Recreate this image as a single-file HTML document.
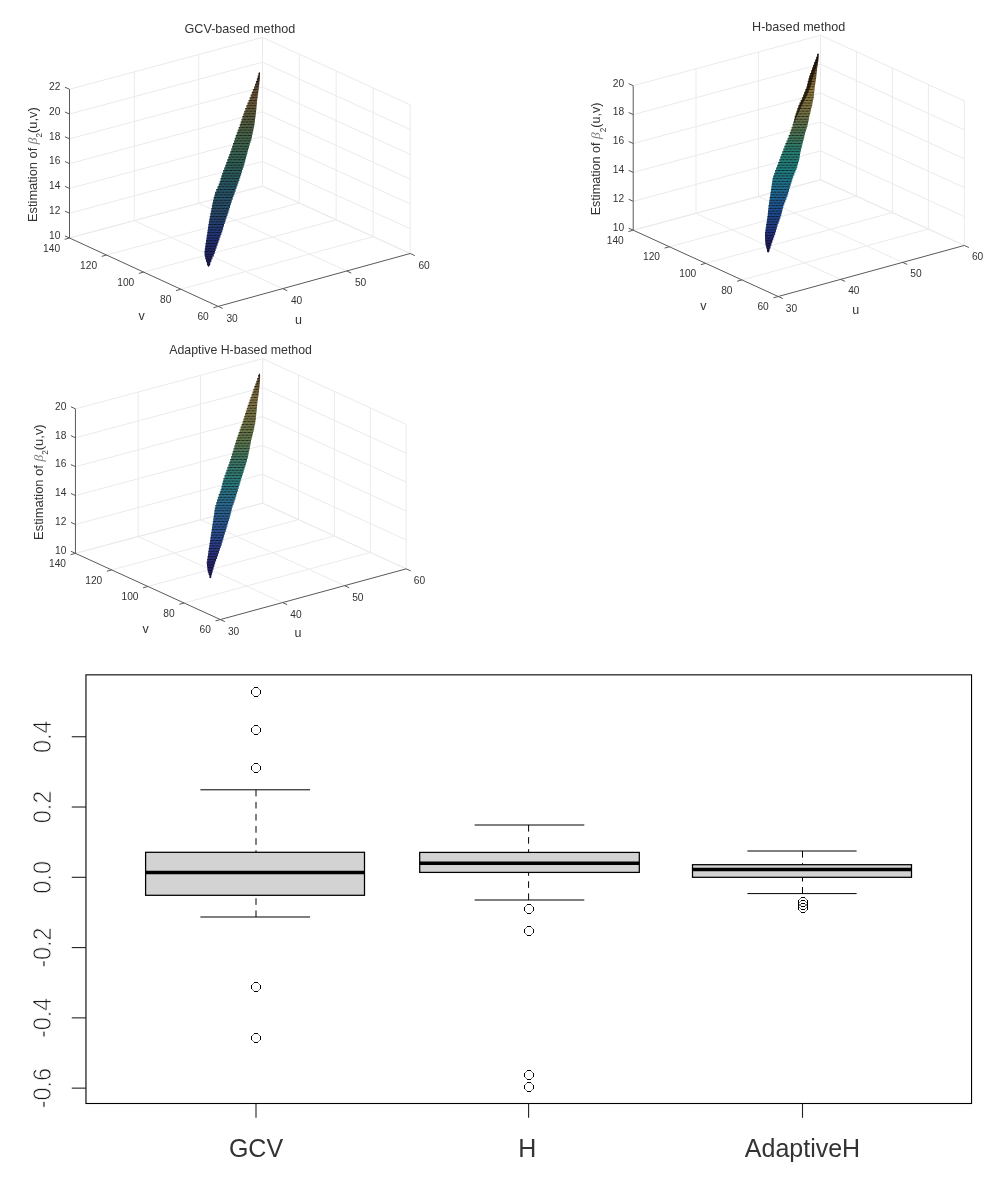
<!DOCTYPE html><html><head><meta charset="utf-8"><style>html,body{margin:0;padding:0;background:#fff;}svg{display:block;will-change:transform;}</style></head><body><svg width="1002" height="1178" viewBox="0 0 1002 1178" font-family='"Liberation Sans", sans-serif'>
<defs><g id="pc" shape-rendering="crispEdges"><rect x="3" y="0" width="4" height="1" fill="#000"/><rect x="3" y="9" width="4" height="1" fill="#000"/><rect x="0" y="3" width="1" height="4" fill="#000"/><rect x="9" y="3" width="1" height="4" fill="#000"/><path d="M1,2h1v1h-1zM2,1h1v1h-1zM7,1h1v1h-1zM8,2h1v1h-1zM1,7h1v1h-1zM2,8h1v1h-1zM7,8h1v1h-1zM8,7h1v1h-1z" fill="#000" fill-opacity="0.55"/></g><pattern id="mesh" patternUnits="userSpaceOnUse" width="4" height="5.4"><rect x="0" y="0" width="4" height="0.9" fill="#000" fill-opacity="0.42"/><rect x="0" y="2.7" width="4" height="0.9" fill="#000" fill-opacity="0.42"/><ellipse cx="1" cy="0.45" rx="1" ry="0.7" fill="#000" fill-opacity="0.4"/><ellipse cx="3" cy="3.15" rx="1" ry="0.7" fill="#000" fill-opacity="0.4"/><rect x="0" y="0" width="4" height="5.4" fill="#000" fill-opacity="0.1"/></pattern>
<linearGradient id="g1" gradientUnits="userSpaceOnUse" x1="0" y1="72" x2="0" y2="267"><stop offset="0.0000" stop-color="#2a2420"/><stop offset="0.0308" stop-color="#3a3028"/><stop offset="0.0821" stop-color="#70553a"/><stop offset="0.1538" stop-color="#76623f"/><stop offset="0.2462" stop-color="#5f6646"/><stop offset="0.3487" stop-color="#4a7055"/><stop offset="0.4769" stop-color="#356a60"/><stop offset="0.5897" stop-color="#2d6070"/><stop offset="0.7077" stop-color="#2d5575"/><stop offset="0.8359" stop-color="#263a85"/><stop offset="0.9385" stop-color="#24286a"/><stop offset="1.0000" stop-color="#1e1e50"/></linearGradient>
<linearGradient id="g2" gradientUnits="userSpaceOnUse" x1="0" y1="53" x2="0" y2="253"><stop offset="0.0000" stop-color="#1c150e"/><stop offset="0.0350" stop-color="#382a1c"/><stop offset="0.0950" stop-color="#7e5d31"/><stop offset="0.1850" stop-color="#a18746"/><stop offset="0.2850" stop-color="#877e4a"/><stop offset="0.3850" stop-color="#5d7e58"/><stop offset="0.4850" stop-color="#2e8c7e"/><stop offset="0.5850" stop-color="#238c8c"/><stop offset="0.6850" stop-color="#2477a1"/><stop offset="0.7850" stop-color="#2358a1"/><stop offset="0.8850" stop-color="#263c91"/><stop offset="0.9600" stop-color="#242066"/><stop offset="1.0000" stop-color="#1c1854"/></linearGradient>
<linearGradient id="g3" gradientUnits="userSpaceOnUse" x1="0" y1="373" x2="0" y2="578"><stop offset="0.0000" stop-color="#2a2418"/><stop offset="0.0244" stop-color="#5a4a30"/><stop offset="0.0732" stop-color="#806c44"/><stop offset="0.1317" stop-color="#92804c"/><stop offset="0.2293" stop-color="#80804c"/><stop offset="0.3268" stop-color="#6c8555"/><stop offset="0.4244" stop-color="#488570"/><stop offset="0.5220" stop-color="#308a88"/><stop offset="0.6439" stop-color="#3075a0"/><stop offset="0.7659" stop-color="#305aa0"/><stop offset="0.8634" stop-color="#303e90"/><stop offset="0.9610" stop-color="#28226a"/><stop offset="1.0000" stop-color="#201c55"/></linearGradient>
</defs>
<rect width="1002" height="1178" fill="#fff"/>
<line x1="134.35" y1="220.58" x2="134.35" y2="71.83" stroke="#ebebeb" stroke-width="1"/>
<line x1="198.67" y1="203.31" x2="198.67" y2="54.56" stroke="#ebebeb" stroke-width="1"/>
<line x1="262.47" y1="186.17" x2="262.47" y2="37.42" stroke="#ebebeb" stroke-width="1"/>
<line x1="410.2" y1="253.5" x2="410.2" y2="104.75" stroke="#ebebeb" stroke-width="1"/>
<line x1="373.14" y1="236.61" x2="373.14" y2="87.86" stroke="#ebebeb" stroke-width="1"/>
<line x1="336.17" y1="219.76" x2="336.17" y2="71.01" stroke="#ebebeb" stroke-width="1"/>
<line x1="299.28" y1="202.95" x2="299.28" y2="54.2" stroke="#ebebeb" stroke-width="1"/>
<line x1="262.47" y1="186.17" x2="262.47" y2="37.42" stroke="#ebebeb" stroke-width="1"/>
<line x1="69.5" y1="238" x2="262.47" y2="186.17" stroke="#ebebeb" stroke-width="1"/>
<line x1="262.47" y1="186.17" x2="410.2" y2="253.5" stroke="#ebebeb" stroke-width="1"/>
<line x1="69.5" y1="213.21" x2="262.47" y2="161.38" stroke="#ebebeb" stroke-width="1"/>
<line x1="262.47" y1="161.38" x2="410.2" y2="228.71" stroke="#ebebeb" stroke-width="1"/>
<line x1="69.5" y1="188.42" x2="262.47" y2="136.59" stroke="#ebebeb" stroke-width="1"/>
<line x1="262.47" y1="136.59" x2="410.2" y2="203.92" stroke="#ebebeb" stroke-width="1"/>
<line x1="69.5" y1="163.62" x2="262.47" y2="111.8" stroke="#ebebeb" stroke-width="1"/>
<line x1="262.47" y1="111.8" x2="410.2" y2="179.12" stroke="#ebebeb" stroke-width="1"/>
<line x1="69.5" y1="138.83" x2="262.47" y2="87" stroke="#ebebeb" stroke-width="1"/>
<line x1="262.47" y1="87" x2="410.2" y2="154.33" stroke="#ebebeb" stroke-width="1"/>
<line x1="69.5" y1="114.04" x2="262.47" y2="62.21" stroke="#ebebeb" stroke-width="1"/>
<line x1="262.47" y1="62.21" x2="410.2" y2="129.54" stroke="#ebebeb" stroke-width="1"/>
<line x1="69.5" y1="89.25" x2="262.47" y2="37.42" stroke="#ebebeb" stroke-width="1"/>
<line x1="262.47" y1="37.42" x2="410.2" y2="104.75" stroke="#ebebeb" stroke-width="1"/>
<line x1="282.73" y1="288.62" x2="134.35" y2="220.58" stroke="#ebebeb" stroke-width="1"/>
<line x1="346.73" y1="270.99" x2="198.67" y2="203.31" stroke="#ebebeb" stroke-width="1"/>
<line x1="410.2" y1="253.5" x2="262.47" y2="186.17" stroke="#ebebeb" stroke-width="1"/>
<line x1="180.9" y1="289.24" x2="373.14" y2="236.61" stroke="#ebebeb" stroke-width="1"/>
<line x1="143.68" y1="272.12" x2="336.17" y2="219.76" stroke="#ebebeb" stroke-width="1"/>
<line x1="106.55" y1="255.04" x2="299.28" y2="202.95" stroke="#ebebeb" stroke-width="1"/>
<line x1="69.5" y1="238" x2="262.47" y2="186.17" stroke="#ebebeb" stroke-width="1"/>
<path d="M259.6,72 L259.93,72.9 L259.93,75.6 L259.85,75.6 L259.85,78.3 L259.68,78.3 L259.68,81 L259.39,81 L259.39,83.7 L259.11,83.7 L259.11,86.4 L258.81,86.4 L258.81,89.1 L258.49,89.1 L258.49,91.8 L258.12,91.8 L258.12,94.5 L257.74,94.5 L257.74,97.2 L257.36,97.2 L257.36,99.9 L257.05,99.9 L257.05,102.6 L256.8,102.6 L256.8,105.3 L256.54,105.3 L256.54,108 L256.29,108 L256.29,110.7 L256.03,110.7 L256.03,113.4 L255.69,113.4 L255.69,116.1 L255.33,116.1 L255.33,118.8 L254.97,118.8 L254.97,121.5 L254.61,121.5 L254.61,124.2 L254.23,124.2 L254.23,126.9 L253.68,126.9 L253.68,129.6 L253.12,129.6 L253.12,132.3 L252.57,132.3 L252.57,135 L252.02,135 L252.02,137.7 L251.36,137.7 L251.36,140.4 L250.55,140.4 L250.55,143.1 L249.74,143.1 L249.74,145.8 L248.93,145.8 L248.93,148.5 L248.12,148.5 L248.12,151.2 L247.38,151.2 L247.38,153.9 L246.66,153.9 L246.66,156.6 L245.93,156.6 L245.93,159.3 L245.21,159.3 L245.21,162 L244.48,162 L244.48,164.7 L243.65,164.7 L243.65,167.4 L242.82,167.4 L242.82,170.1 L241.98,170.1 L241.98,172.8 L241.15,172.8 L241.15,175.5 L240.23,175.5 L240.23,178.2 L239.31,178.2 L239.31,180.9 L238.39,180.9 L238.39,183.6 L237.46,183.6 L237.46,186.3 L236.5,186.3 L236.5,189 L235.54,189 L235.54,191.7 L234.58,191.7 L234.58,194.4 L233.62,194.4 L233.62,197.1 L232.67,197.1 L232.67,199.8 L231.71,199.8 L231.71,202.5 L230.84,202.5 L230.84,205.2 L230.03,205.2 L230.03,207.9 L229.23,207.9 L229.23,210.6 L228.41,210.6 L228.41,213.3 L227.48,213.3 L227.48,216 L226.56,216 L226.56,218.7 L225.63,218.7 L225.63,221.4 L224.77,221.4 L224.77,224.1 L223.96,224.1 L223.96,226.8 L223.15,226.8 L223.15,229.5 L222.3,229.5 L222.3,232.2 L221.35,232.2 L221.35,234.9 L220.39,234.9 L220.39,237.6 L219.43,237.6 L219.43,240.3 L218.48,240.3 L218.48,243 L217.53,243 L217.53,245.7 L216.58,245.7 L216.58,248.4 L215.67,248.4 L215.67,251.1 L214.85,251.1 L214.85,253.8 L213.74,253.8 L213.74,256.5 L212.42,256.5 L212.42,259.2 L211.34,259.2 L211.34,261.9 L210.3,261.9 L210.3,264.6 L208.5,266.9 L208.5,266.9 L206.91,264.6 L206.91,261.9 L206.03,261.9 L206.03,259.2 L205.21,259.2 L205.21,256.5 L204.7,256.5 L204.7,253.8 L204.53,253.8 L204.53,251.1 L204.82,251.1 L204.82,248.4 L205.19,248.4 L205.19,245.7 L205.59,245.7 L205.59,243 L205.99,243 L205.99,240.3 L206.4,240.3 L206.4,237.6 L206.8,237.6 L206.8,234.9 L207.21,234.9 L207.21,232.2 L207.62,232.2 L207.62,229.5 L208.02,229.5 L208.02,226.8 L208.43,226.8 L208.43,224.1 L208.84,224.1 L208.84,221.4 L209.28,221.4 L209.28,218.7 L209.81,218.7 L209.81,216 L210.33,216 L210.33,213.3 L210.85,213.3 L210.85,210.6 L211.4,210.6 L211.4,207.9 L211.94,207.9 L211.94,205.2 L212.49,205.2 L212.49,202.5 L213.08,202.5 L213.08,199.8 L213.75,199.8 L213.75,197.1 L214.42,197.1 L214.42,194.4 L215.09,194.4 L215.09,191.7 L216.3,191.7 L216.3,189 L217.52,189 L217.52,186.3 L218.74,186.3 L218.74,183.6 L219.73,183.6 L219.73,180.9 L220.54,180.9 L220.54,178.2 L221.34,178.2 L221.34,175.5 L222.16,175.5 L222.16,172.8 L223.19,172.8 L223.19,170.1 L224.22,170.1 L224.22,167.4 L225.25,167.4 L225.25,164.7 L226.28,164.7 L226.28,162 L227.28,162 L227.28,159.3 L228.28,159.3 L228.28,156.6 L229.28,156.6 L229.28,153.9 L230.28,153.9 L230.28,151.2 L231.25,151.2 L231.25,148.5 L232.14,148.5 L232.14,145.8 L233.03,145.8 L233.03,143.1 L233.93,143.1 L233.93,140.4 L234.82,140.4 L234.82,137.7 L235.77,137.7 L235.77,135 L236.77,135 L236.77,132.3 L237.77,132.3 L237.77,129.6 L238.77,129.6 L238.77,126.9 L239.77,126.9 L239.77,124.2 L240.67,124.2 L240.67,121.5 L241.56,121.5 L241.56,118.8 L242.44,118.8 L242.44,116.1 L243.33,116.1 L243.33,113.4 L244.24,113.4 L244.24,110.7 L245.32,110.7 L245.32,108 L246.41,108 L246.41,105.3 L247.49,105.3 L247.49,102.6 L248.58,102.6 L248.58,99.9 L249.66,99.9 L249.66,97.2 L250.73,97.2 L250.73,94.5 L251.81,94.5 L251.81,91.8 L252.88,91.8 L252.88,89.1 L253.99,89.1 L253.99,86.4 L254.99,86.4 L254.99,83.7 L255.94,83.7 L255.94,81 L256.89,81 L256.89,78.3 L257.75,78.3 L257.75,75.6 L258.54,75.6 L258.54,72.9 L259.6,72 Z" fill="url(#g1)"/>
<path d="M259.6,72 L259.93,72.9 L259.93,75.6 L259.85,75.6 L259.85,78.3 L259.68,78.3 L259.68,81 L259.39,81 L259.39,83.7 L259.11,83.7 L259.11,86.4 L258.81,86.4 L258.81,89.1 L258.49,89.1 L258.49,91.8 L258.12,91.8 L258.12,94.5 L257.74,94.5 L257.74,97.2 L257.36,97.2 L257.36,99.9 L257.05,99.9 L257.05,102.6 L256.8,102.6 L256.8,105.3 L256.54,105.3 L256.54,108 L256.29,108 L256.29,110.7 L256.03,110.7 L256.03,113.4 L255.69,113.4 L255.69,116.1 L255.33,116.1 L255.33,118.8 L254.97,118.8 L254.97,121.5 L254.61,121.5 L254.61,124.2 L254.23,124.2 L254.23,126.9 L253.68,126.9 L253.68,129.6 L253.12,129.6 L253.12,132.3 L252.57,132.3 L252.57,135 L252.02,135 L252.02,137.7 L251.36,137.7 L251.36,140.4 L250.55,140.4 L250.55,143.1 L249.74,143.1 L249.74,145.8 L248.93,145.8 L248.93,148.5 L248.12,148.5 L248.12,151.2 L247.38,151.2 L247.38,153.9 L246.66,153.9 L246.66,156.6 L245.93,156.6 L245.93,159.3 L245.21,159.3 L245.21,162 L244.48,162 L244.48,164.7 L243.65,164.7 L243.65,167.4 L242.82,167.4 L242.82,170.1 L241.98,170.1 L241.98,172.8 L241.15,172.8 L241.15,175.5 L240.23,175.5 L240.23,178.2 L239.31,178.2 L239.31,180.9 L238.39,180.9 L238.39,183.6 L237.46,183.6 L237.46,186.3 L236.5,186.3 L236.5,189 L235.54,189 L235.54,191.7 L234.58,191.7 L234.58,194.4 L233.62,194.4 L233.62,197.1 L232.67,197.1 L232.67,199.8 L231.71,199.8 L231.71,202.5 L230.84,202.5 L230.84,205.2 L230.03,205.2 L230.03,207.9 L229.23,207.9 L229.23,210.6 L228.41,210.6 L228.41,213.3 L227.48,213.3 L227.48,216 L226.56,216 L226.56,218.7 L225.63,218.7 L225.63,221.4 L224.77,221.4 L224.77,224.1 L223.96,224.1 L223.96,226.8 L223.15,226.8 L223.15,229.5 L222.3,229.5 L222.3,232.2 L221.35,232.2 L221.35,234.9 L220.39,234.9 L220.39,237.6 L219.43,237.6 L219.43,240.3 L218.48,240.3 L218.48,243 L217.53,243 L217.53,245.7 L216.58,245.7 L216.58,248.4 L215.67,248.4 L215.67,251.1 L214.85,251.1 L214.85,253.8 L213.74,253.8 L213.74,256.5 L212.42,256.5 L212.42,259.2 L211.34,259.2 L211.34,261.9 L210.3,261.9 L210.3,264.6 L208.5,266.9 L208.5,266.9 L206.91,264.6 L206.91,261.9 L206.03,261.9 L206.03,259.2 L205.21,259.2 L205.21,256.5 L204.7,256.5 L204.7,253.8 L204.53,253.8 L204.53,251.1 L204.82,251.1 L204.82,248.4 L205.19,248.4 L205.19,245.7 L205.59,245.7 L205.59,243 L205.99,243 L205.99,240.3 L206.4,240.3 L206.4,237.6 L206.8,237.6 L206.8,234.9 L207.21,234.9 L207.21,232.2 L207.62,232.2 L207.62,229.5 L208.02,229.5 L208.02,226.8 L208.43,226.8 L208.43,224.1 L208.84,224.1 L208.84,221.4 L209.28,221.4 L209.28,218.7 L209.81,218.7 L209.81,216 L210.33,216 L210.33,213.3 L210.85,213.3 L210.85,210.6 L211.4,210.6 L211.4,207.9 L211.94,207.9 L211.94,205.2 L212.49,205.2 L212.49,202.5 L213.08,202.5 L213.08,199.8 L213.75,199.8 L213.75,197.1 L214.42,197.1 L214.42,194.4 L215.09,194.4 L215.09,191.7 L216.3,191.7 L216.3,189 L217.52,189 L217.52,186.3 L218.74,186.3 L218.74,183.6 L219.73,183.6 L219.73,180.9 L220.54,180.9 L220.54,178.2 L221.34,178.2 L221.34,175.5 L222.16,175.5 L222.16,172.8 L223.19,172.8 L223.19,170.1 L224.22,170.1 L224.22,167.4 L225.25,167.4 L225.25,164.7 L226.28,164.7 L226.28,162 L227.28,162 L227.28,159.3 L228.28,159.3 L228.28,156.6 L229.28,156.6 L229.28,153.9 L230.28,153.9 L230.28,151.2 L231.25,151.2 L231.25,148.5 L232.14,148.5 L232.14,145.8 L233.03,145.8 L233.03,143.1 L233.93,143.1 L233.93,140.4 L234.82,140.4 L234.82,137.7 L235.77,137.7 L235.77,135 L236.77,135 L236.77,132.3 L237.77,132.3 L237.77,129.6 L238.77,129.6 L238.77,126.9 L239.77,126.9 L239.77,124.2 L240.67,124.2 L240.67,121.5 L241.56,121.5 L241.56,118.8 L242.44,118.8 L242.44,116.1 L243.33,116.1 L243.33,113.4 L244.24,113.4 L244.24,110.7 L245.32,110.7 L245.32,108 L246.41,108 L246.41,105.3 L247.49,105.3 L247.49,102.6 L248.58,102.6 L248.58,99.9 L249.66,99.9 L249.66,97.2 L250.73,97.2 L250.73,94.5 L251.81,94.5 L251.81,91.8 L252.88,91.8 L252.88,89.1 L253.99,89.1 L253.99,86.4 L254.99,86.4 L254.99,83.7 L255.94,83.7 L255.94,81 L256.89,81 L256.89,78.3 L257.75,78.3 L257.75,75.6 L258.54,75.6 L258.54,72.9 L259.6,72 Z" fill="url(#mesh)"/>
<line x1="69.5" y1="238" x2="69.5" y2="89.25" stroke="#5a5a5a" stroke-width="1"/>
<line x1="218.2" y1="306.4" x2="69.5" y2="238" stroke="#5a5a5a" stroke-width="1"/>
<line x1="218.2" y1="306.4" x2="410.2" y2="253.5" stroke="#5a5a5a" stroke-width="1"/>
<line x1="69.5" y1="238" x2="64.96" y2="235.91" stroke="#5a5a5a" stroke-width="1"/>
<text x="60.4" y="238.8" font-size="10.2" text-anchor="end" fill="#333333">10</text>
<line x1="69.5" y1="213.21" x2="64.96" y2="211.12" stroke="#5a5a5a" stroke-width="1"/>
<text x="60.4" y="214.01" font-size="10.2" text-anchor="end" fill="#333333">12</text>
<line x1="69.5" y1="188.42" x2="64.96" y2="186.33" stroke="#5a5a5a" stroke-width="1"/>
<text x="60.4" y="189.22" font-size="10.2" text-anchor="end" fill="#333333">14</text>
<line x1="69.5" y1="163.62" x2="64.96" y2="161.54" stroke="#5a5a5a" stroke-width="1"/>
<text x="60.4" y="164.43" font-size="10.2" text-anchor="end" fill="#333333">16</text>
<line x1="69.5" y1="138.83" x2="64.96" y2="136.74" stroke="#5a5a5a" stroke-width="1"/>
<text x="60.4" y="139.63" font-size="10.2" text-anchor="end" fill="#333333">18</text>
<line x1="69.5" y1="114.04" x2="64.96" y2="111.95" stroke="#5a5a5a" stroke-width="1"/>
<text x="60.4" y="114.84" font-size="10.2" text-anchor="end" fill="#333333">20</text>
<line x1="69.5" y1="89.25" x2="64.96" y2="87.16" stroke="#5a5a5a" stroke-width="1"/>
<text x="60.4" y="90.05" font-size="10.2" text-anchor="end" fill="#333333">22</text>
<line x1="218.2" y1="306.4" x2="213.38" y2="307.73" stroke="#5a5a5a" stroke-width="1"/>
<text x="208.75" y="320.1" font-size="10.2" text-anchor="end" fill="#333333">60</text>
<line x1="180.9" y1="289.24" x2="176.08" y2="290.57" stroke="#5a5a5a" stroke-width="1"/>
<text x="171.45" y="302.94" font-size="10.2" text-anchor="end" fill="#333333">80</text>
<line x1="143.68" y1="272.12" x2="138.86" y2="273.45" stroke="#5a5a5a" stroke-width="1"/>
<text x="134.23" y="285.82" font-size="10.2" text-anchor="end" fill="#333333">100</text>
<line x1="106.55" y1="255.04" x2="101.73" y2="256.37" stroke="#5a5a5a" stroke-width="1"/>
<text x="97.1" y="268.74" font-size="10.2" text-anchor="end" fill="#333333">120</text>
<line x1="69.5" y1="238" x2="64.68" y2="239.33" stroke="#5a5a5a" stroke-width="1"/>
<text x="60.05" y="251.7" font-size="10.2" text-anchor="end" fill="#333333">140</text>
<line x1="218.2" y1="306.4" x2="222.74" y2="308.49" stroke="#5a5a5a" stroke-width="1"/>
<text x="226.4" y="321.5" font-size="10.2" text-anchor="start" fill="#333333">30</text>
<line x1="282.73" y1="288.62" x2="287.27" y2="290.71" stroke="#5a5a5a" stroke-width="1"/>
<text x="290.93" y="303.72" font-size="10.2" text-anchor="start" fill="#333333">40</text>
<line x1="346.73" y1="270.99" x2="351.27" y2="273.08" stroke="#5a5a5a" stroke-width="1"/>
<text x="354.93" y="286.09" font-size="10.2" text-anchor="start" fill="#333333">50</text>
<line x1="410.2" y1="253.5" x2="414.74" y2="255.59" stroke="#5a5a5a" stroke-width="1"/>
<text x="418.4" y="268.6" font-size="10.2" text-anchor="start" fill="#333333">60</text>
<text x="141.6" y="320.2" font-size="12.5" text-anchor="middle" fill="#333333">v</text>
<text x="298.6" y="324.1" font-size="12.5" text-anchor="middle" fill="#333333">u</text>
<text transform="translate(36.6,164.62) rotate(-90)" font-size="12.85" text-anchor="middle" fill="#333333">Estimation of <tspan font-family="Liberation Serif" font-style="italic" fill="#808080" font-size="13.5">&#946;</tspan><tspan font-size="8.2" dy="5.6">2</tspan><tspan dy="-5.6">(u,v)</tspan></text>
<text x="239.85" y="32.7" font-size="12.6" text-anchor="middle" fill="#333333">GCV-based method</text>
<line x1="695.99" y1="213.29" x2="695.99" y2="68.79" stroke="#ebebeb" stroke-width="1"/>
<line x1="758.41" y1="196.48" x2="758.41" y2="51.98" stroke="#ebebeb" stroke-width="1"/>
<line x1="820.47" y1="179.77" x2="820.47" y2="35.27" stroke="#ebebeb" stroke-width="1"/>
<line x1="964.35" y1="245.45" x2="964.35" y2="100.95" stroke="#ebebeb" stroke-width="1"/>
<line x1="928.36" y1="229.02" x2="928.36" y2="84.52" stroke="#ebebeb" stroke-width="1"/>
<line x1="892.38" y1="212.6" x2="892.38" y2="68.1" stroke="#ebebeb" stroke-width="1"/>
<line x1="856.42" y1="196.18" x2="856.42" y2="51.68" stroke="#ebebeb" stroke-width="1"/>
<line x1="820.47" y1="179.77" x2="820.47" y2="35.27" stroke="#ebebeb" stroke-width="1"/>
<line x1="633.2" y1="230.2" x2="820.47" y2="179.77" stroke="#ebebeb" stroke-width="1"/>
<line x1="820.47" y1="179.77" x2="964.35" y2="245.45" stroke="#ebebeb" stroke-width="1"/>
<line x1="633.2" y1="201.3" x2="820.47" y2="150.87" stroke="#ebebeb" stroke-width="1"/>
<line x1="820.47" y1="150.87" x2="964.35" y2="216.55" stroke="#ebebeb" stroke-width="1"/>
<line x1="633.2" y1="172.4" x2="820.47" y2="121.97" stroke="#ebebeb" stroke-width="1"/>
<line x1="820.47" y1="121.97" x2="964.35" y2="187.65" stroke="#ebebeb" stroke-width="1"/>
<line x1="633.2" y1="143.5" x2="820.47" y2="93.07" stroke="#ebebeb" stroke-width="1"/>
<line x1="820.47" y1="93.07" x2="964.35" y2="158.75" stroke="#ebebeb" stroke-width="1"/>
<line x1="633.2" y1="114.6" x2="820.47" y2="64.17" stroke="#ebebeb" stroke-width="1"/>
<line x1="820.47" y1="64.17" x2="964.35" y2="129.85" stroke="#ebebeb" stroke-width="1"/>
<line x1="633.2" y1="85.7" x2="820.47" y2="35.27" stroke="#ebebeb" stroke-width="1"/>
<line x1="820.47" y1="35.27" x2="964.35" y2="100.95" stroke="#ebebeb" stroke-width="1"/>
<line x1="840.61" y1="279.38" x2="695.99" y2="213.29" stroke="#ebebeb" stroke-width="1"/>
<line x1="902.66" y1="262.37" x2="758.41" y2="196.48" stroke="#ebebeb" stroke-width="1"/>
<line x1="964.35" y1="245.45" x2="820.47" y2="179.77" stroke="#ebebeb" stroke-width="1"/>
<line x1="741.93" y1="279.92" x2="928.36" y2="229.02" stroke="#ebebeb" stroke-width="1"/>
<line x1="705.67" y1="263.34" x2="892.38" y2="212.6" stroke="#ebebeb" stroke-width="1"/>
<line x1="669.43" y1="246.77" x2="856.42" y2="196.18" stroke="#ebebeb" stroke-width="1"/>
<line x1="633.2" y1="230.2" x2="820.47" y2="179.77" stroke="#ebebeb" stroke-width="1"/>
<path d="M818.3,53.4 L818.63,54 L818.63,56.7 L818.54,56.7 L818.54,59.4 L818.28,59.4 L818.28,62.1 L817.88,62.1 L817.88,64.8 L817.48,64.8 L817.48,67.5 L817.08,67.5 L817.08,70.2 L816.79,70.2 L816.79,72.9 L816.5,72.9 L816.5,75.6 L816.21,75.6 L816.21,78.3 L815.85,78.3 L815.85,81 L815.45,81 L815.45,83.7 L815.04,83.7 L815.04,86.4 L814.66,86.4 L814.66,89.1 L814.4,89.1 L814.4,91.8 L814.14,91.8 L814.14,94.5 L813.88,94.5 L813.88,97.2 L813.42,97.2 L813.42,99.9 L812.87,99.9 L812.87,102.6 L812.32,102.6 L812.32,105.3 L811.74,105.3 L811.74,108 L811.07,108 L811.07,110.7 L810.4,110.7 L810.4,113.4 L809.74,113.4 L809.74,116.1 L809.16,116.1 L809.16,118.8 L808.61,118.8 L808.61,121.5 L808.06,121.5 L808.06,124.2 L807.42,124.2 L807.42,126.9 L806.61,126.9 L806.61,129.6 L805.81,129.6 L805.81,132.3 L805,132.3 L805,135 L804.32,135 L804.32,137.7 L803.65,137.7 L803.65,140.4 L802.98,140.4 L802.98,143.1 L802.32,143.1 L802.32,145.8 L801.65,145.8 L801.65,148.5 L800.98,148.5 L800.98,151.2 L800.31,151.2 L800.31,153.9 L799.9,153.9 L799.9,156.6 L799.5,156.6 L799.5,159.3 L798.9,159.3 L798.9,162 L798.09,162 L798.09,164.7 L797.29,164.7 L797.29,167.4 L796.48,167.4 L796.48,170.1 L795.38,170.1 L795.38,172.8 L794.27,172.8 L794.27,175.5 L793.17,175.5 L793.17,178.2 L792.23,178.2 L792.23,180.9 L791.42,180.9 L791.42,183.6 L790.61,183.6 L790.61,186.3 L789.8,186.3 L789.8,189 L788.99,189 L788.99,191.7 L788.19,191.7 L788.19,194.4 L787.38,194.4 L787.38,197.1 L786.4,197.1 L786.4,199.8 L785.33,199.8 L785.33,202.5 L784.26,202.5 L784.26,205.2 L783.26,205.2 L783.26,207.9 L782.6,207.9 L782.6,210.6 L781.93,210.6 L781.93,213.3 L781.26,213.3 L781.26,216 L780.37,216 L780.37,218.7 L779.41,218.7 L779.41,221.4 L778.46,221.4 L778.46,224.1 L777.55,224.1 L777.55,226.8 L776.74,226.8 L776.74,229.5 L775.94,229.5 L775.94,232.2 L775.13,232.2 L775.13,234.9 L774.2,234.9 L774.2,237.6 L773.24,237.6 L773.24,240.3 L772.29,240.3 L772.29,243 L771.35,243 L771.35,245.7 L770.44,245.7 L770.44,248.4 L769.53,248.4 L769.53,251.1 L768.1,252.8 L768.1,252.8 L766.93,251.1 L766.93,248.4 L766.25,248.4 L766.25,245.7 L765.57,245.7 L765.57,243 L765.23,243 L765.23,240.3 L765.11,240.3 L765.11,237.6 L765,237.6 L765,234.9 L764.97,234.9 L764.97,232.2 L765.37,232.2 L765.37,229.5 L765.77,229.5 L765.77,226.8 L766.17,226.8 L766.17,224.1 L766.58,224.1 L766.58,221.4 L766.98,221.4 L766.98,218.7 L767.39,218.7 L767.39,216 L767.76,216 L767.76,213.3 L768.02,213.3 L768.02,210.6 L768.29,210.6 L768.29,207.9 L768.55,207.9 L768.55,205.2 L768.92,205.2 L768.92,202.5 L769.33,202.5 L769.33,199.8 L769.74,199.8 L769.74,197.1 L770.14,197.1 L770.14,194.4 L770.54,194.4 L770.54,191.7 L770.95,191.7 L770.95,189 L771.35,189 L771.35,186.3 L771.75,186.3 L771.75,183.6 L772.16,183.6 L772.16,180.9 L772.57,180.9 L772.57,178.2 L773.21,178.2 L773.21,175.5 L774.17,175.5 L774.17,172.8 L775.12,172.8 L775.12,170.1 L776.08,170.1 L776.08,167.4 L777.14,167.4 L777.14,164.7 L778.21,164.7 L778.21,162 L779.27,162 L779.27,159.3 L780.28,159.3 L780.28,156.6 L781.25,156.6 L781.25,153.9 L782.22,153.9 L782.22,151.2 L783.29,151.2 L783.29,148.5 L784.37,148.5 L784.37,145.8 L785.44,145.8 L785.44,143.1 L786.53,143.1 L786.53,140.4 L787.64,140.4 L787.64,137.7 L788.74,137.7 L788.74,135 L789.82,135 L789.82,132.3 L790.74,132.3 L790.74,129.6 L791.66,129.6 L791.66,126.9 L792.58,126.9 L792.58,124.2 L793.35,124.2 L793.35,121.5 L794.05,121.5 L794.05,118.8 L794.75,118.8 L794.75,116.1 L795.49,116.1 L795.49,113.4 L796.42,113.4 L796.42,110.7 L797.35,110.7 L797.35,108 L798.28,108 L798.28,105.3 L799.43,105.3 L799.43,102.6 L800.65,102.6 L800.65,99.9 L801.86,99.9 L801.86,97.2 L803.04,97.2 L803.04,94.5 L804.14,94.5 L804.14,91.8 L805.23,91.8 L805.23,89.1 L806.32,89.1 L806.32,86.4 L807.06,86.4 L807.06,83.7 L807.72,83.7 L807.72,81 L808.39,81 L808.39,78.3 L809.17,78.3 L809.17,75.6 L810.13,75.6 L810.13,72.9 L811.09,72.9 L811.09,70.2 L812.05,70.2 L812.05,67.5 L813.1,67.5 L813.1,64.8 L814.17,64.8 L814.17,62.1 L815.23,62.1 L815.23,59.4 L816.24,59.4 L816.24,56.7 L817.21,56.7 L817.21,54 L818.3,53.4 Z" fill="url(#g2)"/>
<path d="M818.3,53.4 L818.63,54 L818.63,56.7 L818.54,56.7 L818.54,59.4 L818.28,59.4 L818.28,62.1 L817.88,62.1 L817.88,64.8 L817.48,64.8 L817.48,67.5 L817.08,67.5 L817.08,70.2 L816.79,70.2 L816.79,72.9 L816.5,72.9 L816.5,75.6 L816.21,75.6 L816.21,78.3 L815.85,78.3 L815.85,81 L815.45,81 L815.45,83.7 L815.04,83.7 L815.04,86.4 L814.66,86.4 L814.66,89.1 L814.4,89.1 L814.4,91.8 L814.14,91.8 L814.14,94.5 L813.88,94.5 L813.88,97.2 L813.42,97.2 L813.42,99.9 L812.87,99.9 L812.87,102.6 L812.32,102.6 L812.32,105.3 L811.74,105.3 L811.74,108 L811.07,108 L811.07,110.7 L810.4,110.7 L810.4,113.4 L809.74,113.4 L809.74,116.1 L809.16,116.1 L809.16,118.8 L808.61,118.8 L808.61,121.5 L808.06,121.5 L808.06,124.2 L807.42,124.2 L807.42,126.9 L806.61,126.9 L806.61,129.6 L805.81,129.6 L805.81,132.3 L805,132.3 L805,135 L804.32,135 L804.32,137.7 L803.65,137.7 L803.65,140.4 L802.98,140.4 L802.98,143.1 L802.32,143.1 L802.32,145.8 L801.65,145.8 L801.65,148.5 L800.98,148.5 L800.98,151.2 L800.31,151.2 L800.31,153.9 L799.9,153.9 L799.9,156.6 L799.5,156.6 L799.5,159.3 L798.9,159.3 L798.9,162 L798.09,162 L798.09,164.7 L797.29,164.7 L797.29,167.4 L796.48,167.4 L796.48,170.1 L795.38,170.1 L795.38,172.8 L794.27,172.8 L794.27,175.5 L793.17,175.5 L793.17,178.2 L792.23,178.2 L792.23,180.9 L791.42,180.9 L791.42,183.6 L790.61,183.6 L790.61,186.3 L789.8,186.3 L789.8,189 L788.99,189 L788.99,191.7 L788.19,191.7 L788.19,194.4 L787.38,194.4 L787.38,197.1 L786.4,197.1 L786.4,199.8 L785.33,199.8 L785.33,202.5 L784.26,202.5 L784.26,205.2 L783.26,205.2 L783.26,207.9 L782.6,207.9 L782.6,210.6 L781.93,210.6 L781.93,213.3 L781.26,213.3 L781.26,216 L780.37,216 L780.37,218.7 L779.41,218.7 L779.41,221.4 L778.46,221.4 L778.46,224.1 L777.55,224.1 L777.55,226.8 L776.74,226.8 L776.74,229.5 L775.94,229.5 L775.94,232.2 L775.13,232.2 L775.13,234.9 L774.2,234.9 L774.2,237.6 L773.24,237.6 L773.24,240.3 L772.29,240.3 L772.29,243 L771.35,243 L771.35,245.7 L770.44,245.7 L770.44,248.4 L769.53,248.4 L769.53,251.1 L768.1,252.8 L768.1,252.8 L766.93,251.1 L766.93,248.4 L766.25,248.4 L766.25,245.7 L765.57,245.7 L765.57,243 L765.23,243 L765.23,240.3 L765.11,240.3 L765.11,237.6 L765,237.6 L765,234.9 L764.97,234.9 L764.97,232.2 L765.37,232.2 L765.37,229.5 L765.77,229.5 L765.77,226.8 L766.17,226.8 L766.17,224.1 L766.58,224.1 L766.58,221.4 L766.98,221.4 L766.98,218.7 L767.39,218.7 L767.39,216 L767.76,216 L767.76,213.3 L768.02,213.3 L768.02,210.6 L768.29,210.6 L768.29,207.9 L768.55,207.9 L768.55,205.2 L768.92,205.2 L768.92,202.5 L769.33,202.5 L769.33,199.8 L769.74,199.8 L769.74,197.1 L770.14,197.1 L770.14,194.4 L770.54,194.4 L770.54,191.7 L770.95,191.7 L770.95,189 L771.35,189 L771.35,186.3 L771.75,186.3 L771.75,183.6 L772.16,183.6 L772.16,180.9 L772.57,180.9 L772.57,178.2 L773.21,178.2 L773.21,175.5 L774.17,175.5 L774.17,172.8 L775.12,172.8 L775.12,170.1 L776.08,170.1 L776.08,167.4 L777.14,167.4 L777.14,164.7 L778.21,164.7 L778.21,162 L779.27,162 L779.27,159.3 L780.28,159.3 L780.28,156.6 L781.25,156.6 L781.25,153.9 L782.22,153.9 L782.22,151.2 L783.29,151.2 L783.29,148.5 L784.37,148.5 L784.37,145.8 L785.44,145.8 L785.44,143.1 L786.53,143.1 L786.53,140.4 L787.64,140.4 L787.64,137.7 L788.74,137.7 L788.74,135 L789.82,135 L789.82,132.3 L790.74,132.3 L790.74,129.6 L791.66,129.6 L791.66,126.9 L792.58,126.9 L792.58,124.2 L793.35,124.2 L793.35,121.5 L794.05,121.5 L794.05,118.8 L794.75,118.8 L794.75,116.1 L795.49,116.1 L795.49,113.4 L796.42,113.4 L796.42,110.7 L797.35,110.7 L797.35,108 L798.28,108 L798.28,105.3 L799.43,105.3 L799.43,102.6 L800.65,102.6 L800.65,99.9 L801.86,99.9 L801.86,97.2 L803.04,97.2 L803.04,94.5 L804.14,94.5 L804.14,91.8 L805.23,91.8 L805.23,89.1 L806.32,89.1 L806.32,86.4 L807.06,86.4 L807.06,83.7 L807.72,83.7 L807.72,81 L808.39,81 L808.39,78.3 L809.17,78.3 L809.17,75.6 L810.13,75.6 L810.13,72.9 L811.09,72.9 L811.09,70.2 L812.05,70.2 L812.05,67.5 L813.1,67.5 L813.1,64.8 L814.17,64.8 L814.17,62.1 L815.23,62.1 L815.23,59.4 L816.24,59.4 L816.24,56.7 L817.21,56.7 L817.21,54 L818.3,53.4 Z" fill="url(#mesh)"/>
<path d="M818.3,53.4 L816.2,59.3 L812.5,68.7 L809.2,78.0 L806.9,87.3 L803.1,96.7 L798.9,106.0 L795.7,115.3 L793.3,124.6 L793.3,124.6 L797.3,115.3 L801.5,106.0 L806.3,96.7 L810.3,87.3 L812.6,78.0 L815.5,68.7 L817.8,59.3 L818.3,53.4 Z" fill="#120e08" fill-opacity="0.8"/>
<line x1="633.2" y1="230.2" x2="633.2" y2="85.7" stroke="#5a5a5a" stroke-width="1"/>
<line x1="778.2" y1="296.5" x2="633.2" y2="230.2" stroke="#5a5a5a" stroke-width="1"/>
<line x1="778.2" y1="296.5" x2="964.35" y2="245.45" stroke="#5a5a5a" stroke-width="1"/>
<line x1="633.2" y1="230.2" x2="628.65" y2="228.12" stroke="#5a5a5a" stroke-width="1"/>
<text x="624.1" y="231" font-size="10.2" text-anchor="end" fill="#333333">10</text>
<line x1="633.2" y1="201.3" x2="628.65" y2="199.22" stroke="#5a5a5a" stroke-width="1"/>
<text x="624.1" y="202.1" font-size="10.2" text-anchor="end" fill="#333333">12</text>
<line x1="633.2" y1="172.4" x2="628.65" y2="170.32" stroke="#5a5a5a" stroke-width="1"/>
<text x="624.1" y="173.2" font-size="10.2" text-anchor="end" fill="#333333">14</text>
<line x1="633.2" y1="143.5" x2="628.65" y2="141.42" stroke="#5a5a5a" stroke-width="1"/>
<text x="624.1" y="144.3" font-size="10.2" text-anchor="end" fill="#333333">16</text>
<line x1="633.2" y1="114.6" x2="628.65" y2="112.52" stroke="#5a5a5a" stroke-width="1"/>
<text x="624.1" y="115.4" font-size="10.2" text-anchor="end" fill="#333333">18</text>
<line x1="633.2" y1="85.7" x2="628.65" y2="83.62" stroke="#5a5a5a" stroke-width="1"/>
<text x="624.1" y="86.5" font-size="10.2" text-anchor="end" fill="#333333">20</text>
<line x1="778.2" y1="296.5" x2="773.38" y2="297.82" stroke="#5a5a5a" stroke-width="1"/>
<text x="768.75" y="310.2" font-size="10.2" text-anchor="end" fill="#333333">60</text>
<line x1="741.93" y1="279.92" x2="737.11" y2="281.24" stroke="#5a5a5a" stroke-width="1"/>
<text x="732.48" y="293.62" font-size="10.2" text-anchor="end" fill="#333333">80</text>
<line x1="705.67" y1="263.34" x2="700.85" y2="264.66" stroke="#5a5a5a" stroke-width="1"/>
<text x="696.22" y="277.04" font-size="10.2" text-anchor="end" fill="#333333">100</text>
<line x1="669.43" y1="246.77" x2="664.61" y2="248.09" stroke="#5a5a5a" stroke-width="1"/>
<text x="659.98" y="260.47" font-size="10.2" text-anchor="end" fill="#333333">120</text>
<line x1="633.2" y1="230.2" x2="628.38" y2="231.52" stroke="#5a5a5a" stroke-width="1"/>
<text x="623.75" y="243.9" font-size="10.2" text-anchor="end" fill="#333333">140</text>
<line x1="778.2" y1="296.5" x2="782.75" y2="298.58" stroke="#5a5a5a" stroke-width="1"/>
<text x="785.8" y="311.5" font-size="10.2" text-anchor="start" fill="#333333">30</text>
<line x1="840.61" y1="279.38" x2="845.16" y2="281.46" stroke="#5a5a5a" stroke-width="1"/>
<text x="848.21" y="294.38" font-size="10.2" text-anchor="start" fill="#333333">40</text>
<line x1="902.66" y1="262.37" x2="907.21" y2="264.45" stroke="#5a5a5a" stroke-width="1"/>
<text x="910.26" y="277.37" font-size="10.2" text-anchor="start" fill="#333333">50</text>
<line x1="964.35" y1="245.45" x2="968.9" y2="247.53" stroke="#5a5a5a" stroke-width="1"/>
<text x="971.95" y="260.45" font-size="10.2" text-anchor="start" fill="#333333">60</text>
<text x="703.4" y="310.2" font-size="12.5" text-anchor="middle" fill="#333333">v</text>
<text x="855.85" y="314.4" font-size="12.5" text-anchor="middle" fill="#333333">u</text>
<text transform="translate(600.3,158.95) rotate(-90)" font-size="12.6" text-anchor="middle" fill="#333333">Estimation of <tspan font-family="Liberation Serif" font-style="italic" fill="#808080" font-size="13.5">&#946;</tspan><tspan font-size="8.2" dy="5.6">2</tspan><tspan dy="-5.6">(u,v)</tspan></text>
<text x="798.6" y="30.6" font-size="12.6" text-anchor="middle" fill="#333333">H-based method</text>
<line x1="138.18" y1="536.53" x2="138.18" y2="392.03" stroke="#ebebeb" stroke-width="1"/>
<line x1="200.56" y1="519.8" x2="200.56" y2="375.3" stroke="#ebebeb" stroke-width="1"/>
<line x1="262.6" y1="503.17" x2="262.6" y2="358.67" stroke="#ebebeb" stroke-width="1"/>
<line x1="406.2" y1="568.85" x2="406.2" y2="424.35" stroke="#ebebeb" stroke-width="1"/>
<line x1="370.31" y1="552.44" x2="370.31" y2="407.94" stroke="#ebebeb" stroke-width="1"/>
<line x1="334.42" y1="536.02" x2="334.42" y2="391.52" stroke="#ebebeb" stroke-width="1"/>
<line x1="298.51" y1="519.6" x2="298.51" y2="375.1" stroke="#ebebeb" stroke-width="1"/>
<line x1="262.6" y1="503.17" x2="262.6" y2="358.67" stroke="#ebebeb" stroke-width="1"/>
<line x1="75.45" y1="553.35" x2="262.6" y2="503.17" stroke="#ebebeb" stroke-width="1"/>
<line x1="262.6" y1="503.17" x2="406.2" y2="568.85" stroke="#ebebeb" stroke-width="1"/>
<line x1="75.45" y1="524.45" x2="262.6" y2="474.27" stroke="#ebebeb" stroke-width="1"/>
<line x1="262.6" y1="474.27" x2="406.2" y2="539.95" stroke="#ebebeb" stroke-width="1"/>
<line x1="75.45" y1="495.55" x2="262.6" y2="445.37" stroke="#ebebeb" stroke-width="1"/>
<line x1="262.6" y1="445.37" x2="406.2" y2="511.05" stroke="#ebebeb" stroke-width="1"/>
<line x1="75.45" y1="466.65" x2="262.6" y2="416.47" stroke="#ebebeb" stroke-width="1"/>
<line x1="262.6" y1="416.47" x2="406.2" y2="482.15" stroke="#ebebeb" stroke-width="1"/>
<line x1="75.45" y1="437.75" x2="262.6" y2="387.57" stroke="#ebebeb" stroke-width="1"/>
<line x1="262.6" y1="387.57" x2="406.2" y2="453.25" stroke="#ebebeb" stroke-width="1"/>
<line x1="75.45" y1="408.85" x2="262.6" y2="358.67" stroke="#ebebeb" stroke-width="1"/>
<line x1="262.6" y1="358.67" x2="406.2" y2="424.35" stroke="#ebebeb" stroke-width="1"/>
<line x1="282.64" y1="602.56" x2="138.18" y2="536.53" stroke="#ebebeb" stroke-width="1"/>
<line x1="344.59" y1="585.66" x2="200.56" y2="519.8" stroke="#ebebeb" stroke-width="1"/>
<line x1="406.2" y1="568.85" x2="262.6" y2="503.17" stroke="#ebebeb" stroke-width="1"/>
<line x1="184.14" y1="603.01" x2="370.31" y2="552.44" stroke="#ebebeb" stroke-width="1"/>
<line x1="147.92" y1="586.46" x2="334.42" y2="536.02" stroke="#ebebeb" stroke-width="1"/>
<line x1="111.69" y1="569.91" x2="298.51" y2="519.6" stroke="#ebebeb" stroke-width="1"/>
<line x1="75.45" y1="553.35" x2="262.6" y2="503.17" stroke="#ebebeb" stroke-width="1"/>
<path d="M259.9,373.2 L260.1,375.3 L260.1,378 L259.95,378 L259.95,380.7 L259.79,380.7 L259.79,383.4 L259.6,383.4 L259.6,386.1 L259.34,386.1 L259.34,388.8 L259.08,388.8 L259.08,391.5 L258.81,391.5 L258.81,394.2 L258.42,394.2 L258.42,396.9 L258.01,396.9 L258.01,399.6 L257.6,399.6 L257.6,402.3 L257.27,402.3 L257.27,405 L257.01,405 L257.01,407.7 L256.75,407.7 L256.75,410.4 L256.49,410.4 L256.49,413.1 L256.2,413.1 L256.2,415.8 L255.91,415.8 L255.91,418.5 L255.62,418.5 L255.62,421.2 L255.2,421.2 L255.2,423.9 L254.68,423.9 L254.68,426.6 L254.15,426.6 L254.15,429.3 L253.61,429.3 L253.61,432 L252.91,432 L252.91,434.7 L252.22,434.7 L252.22,437.4 L251.52,437.4 L251.52,440.1 L250.95,440.1 L250.95,442.8 L250.43,442.8 L250.43,445.5 L249.91,445.5 L249.91,448.2 L249.39,448.2 L249.39,450.9 L248.84,450.9 L248.84,453.6 L248.28,453.6 L248.28,456.3 L247.73,456.3 L247.73,459 L246.98,459 L246.98,461.7 L246.17,461.7 L246.17,464.4 L245.36,464.4 L245.36,467.1 L244.53,467.1 L244.53,469.8 L243.68,469.8 L243.68,472.5 L242.82,472.5 L242.82,475.2 L241.97,475.2 L241.97,477.9 L241.12,477.9 L241.12,480.6 L240.31,480.6 L240.31,483.3 L239.51,483.3 L239.51,486 L238.7,486 L238.7,488.7 L237.89,488.7 L237.89,491.4 L237.08,491.4 L237.08,494.1 L236.27,494.1 L236.27,496.8 L235.45,496.8 L235.45,499.5 L234.52,499.5 L234.52,502.2 L233.59,502.2 L233.59,504.9 L232.66,504.9 L232.66,507.6 L231.88,507.6 L231.88,510.3 L231.19,510.3 L231.19,513 L230.5,513 L230.5,515.7 L229.79,515.7 L229.79,518.4 L228.98,518.4 L228.98,521.1 L228.17,521.1 L228.17,523.8 L227.36,523.8 L227.36,526.5 L226.54,526.5 L226.54,529.2 L225.73,529.2 L225.73,531.9 L224.92,531.9 L224.92,534.6 L224.1,534.6 L224.1,537.3 L223.29,537.3 L223.29,540 L222.48,540 L222.48,542.7 L221.67,542.7 L221.67,545.4 L220.77,545.4 L220.77,548.1 L219.85,548.1 L219.85,550.8 L218.93,550.8 L218.93,553.5 L218,553.5 L218,556.2 L217.04,556.2 L217.04,558.9 L216.08,558.9 L216.08,561.6 L215.12,561.6 L215.12,564.3 L214.28,564.3 L214.28,567 L213.45,567 L213.45,569.7 L212.64,569.7 L212.64,572.4 L211.95,572.4 L211.95,575.1 L211.27,575.1 L211.27,577.8 L210.4,578.3 L210.4,578.3 L209.43,577.8 L209.43,575.1 L208.6,575.1 L208.6,572.4 L207.78,572.4 L207.78,569.7 L207.37,569.7 L207.37,567 L207.01,567 L207.01,564.3 L206.75,564.3 L206.75,561.6 L207.16,561.6 L207.16,558.9 L207.57,558.9 L207.57,556.2 L207.97,556.2 L207.97,553.5 L208.38,553.5 L208.38,550.8 L208.78,550.8 L208.78,548.1 L209.18,548.1 L209.18,545.4 L209.58,545.4 L209.58,542.7 L209.99,542.7 L209.99,540 L210.4,540 L210.4,537.3 L210.8,537.3 L210.8,534.6 L211.21,534.6 L211.21,531.9 L211.62,531.9 L211.62,529.2 L212.02,529.2 L212.02,526.5 L212.43,526.5 L212.43,523.8 L212.83,523.8 L212.83,521.1 L213.24,521.1 L213.24,518.4 L213.65,518.4 L213.65,515.7 L214.05,515.7 L214.05,513 L214.45,513 L214.45,510.3 L214.85,510.3 L214.85,507.6 L215.42,507.6 L215.42,504.9 L216.23,504.9 L216.23,502.2 L217.04,502.2 L217.04,499.5 L217.85,499.5 L217.85,496.8 L218.8,496.8 L218.8,494.1 L219.76,494.1 L219.76,491.4 L220.72,491.4 L220.72,488.7 L221.53,488.7 L221.53,486 L222.19,486 L222.19,483.3 L222.85,483.3 L222.85,480.6 L223.52,480.6 L223.52,477.9 L224.49,477.9 L224.49,475.2 L225.46,475.2 L225.46,472.5 L226.43,472.5 L226.43,469.8 L227.39,469.8 L227.39,467.1 L228.34,467.1 L228.34,464.4 L229.27,464.4 L229.27,461.7 L230.19,461.7 L230.19,459 L231.1,459 L231.1,456.3 L231.91,456.3 L231.91,453.6 L232.72,453.6 L232.72,450.9 L233.53,450.9 L233.53,448.2 L234.34,448.2 L234.34,445.5 L235.14,445.5 L235.14,442.8 L235.95,442.8 L235.95,440.1 L236.8,440.1 L236.8,437.4 L237.76,437.4 L237.76,434.7 L238.72,434.7 L238.72,432 L239.68,432 L239.68,429.3 L240.63,429.3 L240.63,426.6 L241.59,426.6 L241.59,423.9 L242.55,423.9 L242.55,421.2 L243.45,421.2 L243.45,418.5 L244.26,418.5 L244.26,415.8 L245.07,415.8 L245.07,413.1 L245.88,413.1 L245.88,410.4 L246.8,410.4 L246.8,407.7 L247.72,407.7 L247.72,405 L248.64,405 L248.64,402.3 L249.58,402.3 L249.58,399.6 L250.54,399.6 L250.54,396.9 L251.5,396.9 L251.5,394.2 L252.45,394.2 L252.45,391.5 L253.41,391.5 L253.41,388.8 L254.37,388.8 L254.37,386.1 L255.33,386.1 L255.33,383.4 L256.3,383.4 L256.3,380.7 L257.27,380.7 L257.27,378 L258.25,378 L258.25,375.3 L259.9,373.2 Z" fill="url(#g3)"/>
<path d="M259.9,373.2 L260.1,375.3 L260.1,378 L259.95,378 L259.95,380.7 L259.79,380.7 L259.79,383.4 L259.6,383.4 L259.6,386.1 L259.34,386.1 L259.34,388.8 L259.08,388.8 L259.08,391.5 L258.81,391.5 L258.81,394.2 L258.42,394.2 L258.42,396.9 L258.01,396.9 L258.01,399.6 L257.6,399.6 L257.6,402.3 L257.27,402.3 L257.27,405 L257.01,405 L257.01,407.7 L256.75,407.7 L256.75,410.4 L256.49,410.4 L256.49,413.1 L256.2,413.1 L256.2,415.8 L255.91,415.8 L255.91,418.5 L255.62,418.5 L255.62,421.2 L255.2,421.2 L255.2,423.9 L254.68,423.9 L254.68,426.6 L254.15,426.6 L254.15,429.3 L253.61,429.3 L253.61,432 L252.91,432 L252.91,434.7 L252.22,434.7 L252.22,437.4 L251.52,437.4 L251.52,440.1 L250.95,440.1 L250.95,442.8 L250.43,442.8 L250.43,445.5 L249.91,445.5 L249.91,448.2 L249.39,448.2 L249.39,450.9 L248.84,450.9 L248.84,453.6 L248.28,453.6 L248.28,456.3 L247.73,456.3 L247.73,459 L246.98,459 L246.98,461.7 L246.17,461.7 L246.17,464.4 L245.36,464.4 L245.36,467.1 L244.53,467.1 L244.53,469.8 L243.68,469.8 L243.68,472.5 L242.82,472.5 L242.82,475.2 L241.97,475.2 L241.97,477.9 L241.12,477.9 L241.12,480.6 L240.31,480.6 L240.31,483.3 L239.51,483.3 L239.51,486 L238.7,486 L238.7,488.7 L237.89,488.7 L237.89,491.4 L237.08,491.4 L237.08,494.1 L236.27,494.1 L236.27,496.8 L235.45,496.8 L235.45,499.5 L234.52,499.5 L234.52,502.2 L233.59,502.2 L233.59,504.9 L232.66,504.9 L232.66,507.6 L231.88,507.6 L231.88,510.3 L231.19,510.3 L231.19,513 L230.5,513 L230.5,515.7 L229.79,515.7 L229.79,518.4 L228.98,518.4 L228.98,521.1 L228.17,521.1 L228.17,523.8 L227.36,523.8 L227.36,526.5 L226.54,526.5 L226.54,529.2 L225.73,529.2 L225.73,531.9 L224.92,531.9 L224.92,534.6 L224.1,534.6 L224.1,537.3 L223.29,537.3 L223.29,540 L222.48,540 L222.48,542.7 L221.67,542.7 L221.67,545.4 L220.77,545.4 L220.77,548.1 L219.85,548.1 L219.85,550.8 L218.93,550.8 L218.93,553.5 L218,553.5 L218,556.2 L217.04,556.2 L217.04,558.9 L216.08,558.9 L216.08,561.6 L215.12,561.6 L215.12,564.3 L214.28,564.3 L214.28,567 L213.45,567 L213.45,569.7 L212.64,569.7 L212.64,572.4 L211.95,572.4 L211.95,575.1 L211.27,575.1 L211.27,577.8 L210.4,578.3 L210.4,578.3 L209.43,577.8 L209.43,575.1 L208.6,575.1 L208.6,572.4 L207.78,572.4 L207.78,569.7 L207.37,569.7 L207.37,567 L207.01,567 L207.01,564.3 L206.75,564.3 L206.75,561.6 L207.16,561.6 L207.16,558.9 L207.57,558.9 L207.57,556.2 L207.97,556.2 L207.97,553.5 L208.38,553.5 L208.38,550.8 L208.78,550.8 L208.78,548.1 L209.18,548.1 L209.18,545.4 L209.58,545.4 L209.58,542.7 L209.99,542.7 L209.99,540 L210.4,540 L210.4,537.3 L210.8,537.3 L210.8,534.6 L211.21,534.6 L211.21,531.9 L211.62,531.9 L211.62,529.2 L212.02,529.2 L212.02,526.5 L212.43,526.5 L212.43,523.8 L212.83,523.8 L212.83,521.1 L213.24,521.1 L213.24,518.4 L213.65,518.4 L213.65,515.7 L214.05,515.7 L214.05,513 L214.45,513 L214.45,510.3 L214.85,510.3 L214.85,507.6 L215.42,507.6 L215.42,504.9 L216.23,504.9 L216.23,502.2 L217.04,502.2 L217.04,499.5 L217.85,499.5 L217.85,496.8 L218.8,496.8 L218.8,494.1 L219.76,494.1 L219.76,491.4 L220.72,491.4 L220.72,488.7 L221.53,488.7 L221.53,486 L222.19,486 L222.19,483.3 L222.85,483.3 L222.85,480.6 L223.52,480.6 L223.52,477.9 L224.49,477.9 L224.49,475.2 L225.46,475.2 L225.46,472.5 L226.43,472.5 L226.43,469.8 L227.39,469.8 L227.39,467.1 L228.34,467.1 L228.34,464.4 L229.27,464.4 L229.27,461.7 L230.19,461.7 L230.19,459 L231.1,459 L231.1,456.3 L231.91,456.3 L231.91,453.6 L232.72,453.6 L232.72,450.9 L233.53,450.9 L233.53,448.2 L234.34,448.2 L234.34,445.5 L235.14,445.5 L235.14,442.8 L235.95,442.8 L235.95,440.1 L236.8,440.1 L236.8,437.4 L237.76,437.4 L237.76,434.7 L238.72,434.7 L238.72,432 L239.68,432 L239.68,429.3 L240.63,429.3 L240.63,426.6 L241.59,426.6 L241.59,423.9 L242.55,423.9 L242.55,421.2 L243.45,421.2 L243.45,418.5 L244.26,418.5 L244.26,415.8 L245.07,415.8 L245.07,413.1 L245.88,413.1 L245.88,410.4 L246.8,410.4 L246.8,407.7 L247.72,407.7 L247.72,405 L248.64,405 L248.64,402.3 L249.58,402.3 L249.58,399.6 L250.54,399.6 L250.54,396.9 L251.5,396.9 L251.5,394.2 L252.45,394.2 L252.45,391.5 L253.41,391.5 L253.41,388.8 L254.37,388.8 L254.37,386.1 L255.33,386.1 L255.33,383.4 L256.3,383.4 L256.3,380.7 L257.27,380.7 L257.27,378 L258.25,378 L258.25,375.3 L259.9,373.2 Z" fill="url(#mesh)"/>
<line x1="75.45" y1="553.35" x2="75.45" y2="408.85" stroke="#5a5a5a" stroke-width="1"/>
<line x1="220.35" y1="619.55" x2="75.45" y2="553.35" stroke="#5a5a5a" stroke-width="1"/>
<line x1="220.35" y1="619.55" x2="406.2" y2="568.85" stroke="#5a5a5a" stroke-width="1"/>
<line x1="75.45" y1="553.35" x2="70.9" y2="551.27" stroke="#5a5a5a" stroke-width="1"/>
<text x="66.35" y="554.15" font-size="10.2" text-anchor="end" fill="#333333">10</text>
<line x1="75.45" y1="524.45" x2="70.9" y2="522.37" stroke="#5a5a5a" stroke-width="1"/>
<text x="66.35" y="525.25" font-size="10.2" text-anchor="end" fill="#333333">12</text>
<line x1="75.45" y1="495.55" x2="70.9" y2="493.47" stroke="#5a5a5a" stroke-width="1"/>
<text x="66.35" y="496.35" font-size="10.2" text-anchor="end" fill="#333333">14</text>
<line x1="75.45" y1="466.65" x2="70.9" y2="464.57" stroke="#5a5a5a" stroke-width="1"/>
<text x="66.35" y="467.45" font-size="10.2" text-anchor="end" fill="#333333">16</text>
<line x1="75.45" y1="437.75" x2="70.9" y2="435.67" stroke="#5a5a5a" stroke-width="1"/>
<text x="66.35" y="438.55" font-size="10.2" text-anchor="end" fill="#333333">18</text>
<line x1="75.45" y1="408.85" x2="70.9" y2="406.77" stroke="#5a5a5a" stroke-width="1"/>
<text x="66.35" y="409.65" font-size="10.2" text-anchor="end" fill="#333333">20</text>
<line x1="220.35" y1="619.55" x2="215.53" y2="620.87" stroke="#5a5a5a" stroke-width="1"/>
<text x="210.9" y="633.25" font-size="10.2" text-anchor="end" fill="#333333">60</text>
<line x1="184.14" y1="603.01" x2="179.32" y2="604.32" stroke="#5a5a5a" stroke-width="1"/>
<text x="174.69" y="616.71" font-size="10.2" text-anchor="end" fill="#333333">80</text>
<line x1="147.92" y1="586.46" x2="143.1" y2="587.78" stroke="#5a5a5a" stroke-width="1"/>
<text x="138.47" y="600.16" font-size="10.2" text-anchor="end" fill="#333333">100</text>
<line x1="111.69" y1="569.91" x2="106.87" y2="571.22" stroke="#5a5a5a" stroke-width="1"/>
<text x="102.24" y="583.61" font-size="10.2" text-anchor="end" fill="#333333">120</text>
<line x1="75.45" y1="553.35" x2="70.63" y2="554.67" stroke="#5a5a5a" stroke-width="1"/>
<text x="66" y="567.05" font-size="10.2" text-anchor="end" fill="#333333">140</text>
<line x1="220.35" y1="619.55" x2="224.9" y2="621.63" stroke="#5a5a5a" stroke-width="1"/>
<text x="227.95" y="634.55" font-size="10.2" text-anchor="start" fill="#333333">30</text>
<line x1="282.64" y1="602.56" x2="287.19" y2="604.63" stroke="#5a5a5a" stroke-width="1"/>
<text x="290.24" y="617.56" font-size="10.2" text-anchor="start" fill="#333333">40</text>
<line x1="344.59" y1="585.66" x2="349.14" y2="587.73" stroke="#5a5a5a" stroke-width="1"/>
<text x="352.19" y="600.66" font-size="10.2" text-anchor="start" fill="#333333">50</text>
<line x1="406.2" y1="568.85" x2="410.75" y2="570.93" stroke="#5a5a5a" stroke-width="1"/>
<text x="413.8" y="583.85" font-size="10.2" text-anchor="start" fill="#333333">60</text>
<text x="145.55" y="633.25" font-size="12.5" text-anchor="middle" fill="#333333">v</text>
<text x="298" y="637.45" font-size="12.5" text-anchor="middle" fill="#333333">u</text>
<text transform="translate(42.55,482.1) rotate(-90)" font-size="12.95" text-anchor="middle" fill="#333333">Estimation of <tspan font-family="Liberation Serif" font-style="italic" fill="#808080" font-size="13.5">&#946;</tspan><tspan font-size="8.2" dy="5.6">2</tspan><tspan dy="-5.6">(u,v)</tspan></text>
<text x="240.6" y="354" font-size="12.35" text-anchor="middle" fill="#333333">Adaptive H-based method</text>
<g stroke="#000" fill="none">
<rect x="85.97" y="674.85" width="885.58" height="428.65" stroke-width="1.1"/>
</g>
<line x1="85.97" y1="736.74" x2="71.77" y2="736.74" stroke="#222" stroke-width="1.1"/>
<text transform="translate(51.2,736.74) rotate(-90) scale(0.94,1)" font-size="25" text-anchor="middle" fill="#1a1a1a" stroke="#fff" stroke-width="0.75">0.4</text>
<line x1="85.97" y1="807.02" x2="71.77" y2="807.02" stroke="#222" stroke-width="1.1"/>
<text transform="translate(51.2,807.02) rotate(-90) scale(0.94,1)" font-size="25" text-anchor="middle" fill="#1a1a1a" stroke="#fff" stroke-width="0.75">0.2</text>
<line x1="85.97" y1="877.3" x2="71.77" y2="877.3" stroke="#222" stroke-width="1.1"/>
<text transform="translate(51.2,877.3) rotate(-90) scale(0.94,1)" font-size="25" text-anchor="middle" fill="#1a1a1a" stroke="#fff" stroke-width="0.75">0.0</text>
<line x1="85.97" y1="947.58" x2="71.77" y2="947.58" stroke="#222" stroke-width="1.1"/>
<text transform="translate(51.2,947.58) rotate(-90) scale(0.94,1)" font-size="25" text-anchor="middle" fill="#1a1a1a" stroke="#fff" stroke-width="0.75">-0.2</text>
<line x1="85.97" y1="1017.86" x2="71.77" y2="1017.86" stroke="#222" stroke-width="1.1"/>
<text transform="translate(51.2,1017.86) rotate(-90) scale(0.94,1)" font-size="25" text-anchor="middle" fill="#1a1a1a" stroke="#fff" stroke-width="0.75">-0.4</text>
<line x1="85.97" y1="1088.14" x2="71.77" y2="1088.14" stroke="#222" stroke-width="1.1"/>
<text transform="translate(51.2,1088.14) rotate(-90) scale(0.94,1)" font-size="25" text-anchor="middle" fill="#1a1a1a" stroke="#fff" stroke-width="0.75">-0.6</text>
<line x1="256" y1="789.8" x2="256" y2="852.3" stroke="#000" stroke-width="1" stroke-dasharray="6.6 5.5"/>
<line x1="256" y1="917" x2="256" y2="895.3" stroke="#000" stroke-width="1" stroke-dasharray="6.6 5.5"/>
<line x1="200.4" y1="789.8" x2="310.1" y2="789.8" stroke="#000" stroke-width="1"/>
<line x1="200.4" y1="917" x2="310.1" y2="917" stroke="#000" stroke-width="1"/>
<rect x="145.6" y="852.3" width="218.9" height="43" fill="#d3d3d3" stroke="#000" stroke-width="1.25"/>
<line x1="145.6" y1="872.4" x2="364.5" y2="872.4" stroke="#000" stroke-width="3.5"/>
<use href="#pc" x="251" y="687"/>
<use href="#pc" x="251" y="725"/>
<use href="#pc" x="251" y="763"/>
<use href="#pc" x="251" y="982"/>
<use href="#pc" x="251" y="1033"/>
<line x1="256" y1="1103.5" x2="256" y2="1117.8" stroke="#222" stroke-width="1.1"/>
<text x="256" y="1156.5" font-size="25" text-anchor="middle" fill="#333">GCV</text>
<line x1="528.6" y1="825" x2="528.6" y2="852.4" stroke="#000" stroke-width="1" stroke-dasharray="6.6 5.5"/>
<line x1="528.6" y1="900" x2="528.6" y2="872.4" stroke="#000" stroke-width="1" stroke-dasharray="6.6 5.5"/>
<line x1="474.6" y1="825" x2="584.3" y2="825" stroke="#000" stroke-width="1"/>
<line x1="474.6" y1="900" x2="584.3" y2="900" stroke="#000" stroke-width="1"/>
<rect x="419.7" y="852.4" width="219.6" height="20" fill="#d3d3d3" stroke="#000" stroke-width="1.25"/>
<line x1="419.7" y1="863.25" x2="639.3" y2="863.25" stroke="#000" stroke-width="3.5"/>
<use href="#pc" x="524" y="904"/>
<use href="#pc" x="524" y="926"/>
<use href="#pc" x="524" y="1070"/>
<use href="#pc" x="524" y="1082"/>
<line x1="528.6" y1="1103.5" x2="528.6" y2="1117.8" stroke="#222" stroke-width="1.1"/>
<text x="527.2" y="1156.5" font-size="25" text-anchor="middle" fill="#333">H</text>
<line x1="802.5" y1="851" x2="802.5" y2="864.7" stroke="#000" stroke-width="1" stroke-dasharray="6.6 5.5"/>
<line x1="802.5" y1="893.6" x2="802.5" y2="877.3" stroke="#000" stroke-width="1" stroke-dasharray="6.6 5.5"/>
<line x1="747.4" y1="851" x2="856.6" y2="851" stroke="#000" stroke-width="1"/>
<line x1="747.4" y1="893.6" x2="856.6" y2="893.6" stroke="#000" stroke-width="1"/>
<rect x="692.5" y="864.7" width="219" height="12.6" fill="#d3d3d3" stroke="#000" stroke-width="1.25"/>
<line x1="692.5" y1="869.4" x2="911.5" y2="869.4" stroke="#000" stroke-width="3.5"/>
<use href="#pc" x="798" y="897"/>
<use href="#pc" x="798" y="900"/>
<use href="#pc" x="798" y="903"/>
<line x1="802.5" y1="1103.5" x2="802.5" y2="1117.8" stroke="#222" stroke-width="1.1"/>
<text x="802.5" y="1156.5" font-size="25" text-anchor="middle" fill="#333">AdaptiveH</text>
</svg></body></html>
